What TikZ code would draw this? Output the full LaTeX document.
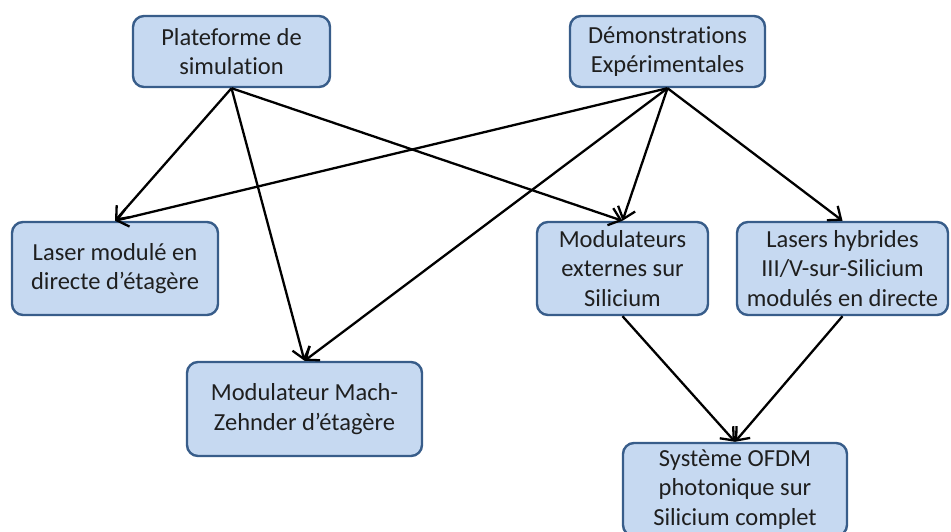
\documentclass[tikz,border=0pt]{standalone}
\usepackage{fontspec}
\setmainfont{Carlito}[RawFeature={-liga;-clig;-calt;-dlig}]
\usetikzlibrary{arrows.meta}
\definecolor{boxfill}{HTML}{C6D9F1}
\definecolor{boxline}{HTML}{385D8A}
\definecolor{txt}{HTML}{1F1F1F}
\tikzset{
	bloc/.style={draw=boxline, fill=boxfill, line width=2.4pt, rounded corners=11pt,
		align=center, text=txt, inner sep=0pt,
		font=\fontsize{24.5}{29.5}\selectfont},
	fleche/.style={line width=2.3pt, -{Straight Barb[length=11pt,width=18pt,line width=2.3pt]}}
}
\begin{document}
\begin{tikzpicture}[x=1pt, y=-1pt]
				\useasboundingbox (0,0) rectangle (951,532);
				% top row
				\node[bloc, minimum width=197, minimum height=71] (plat) at (231.5, 51.5) {Plateforme de\\simulation};
				\node[bloc, minimum width=195, minimum height=71] (demo) at (667.5, 51.5) {Démonstrations\\Expérimentales};
				% middle row
				\node[bloc, minimum width=206, minimum height=93] (laser) at (115, 268.5) {Laser modulé en\\directe d’étagère};
				\node[bloc, minimum width=171, minimum height=93] (modext) at (622.5, 268.5) {Modulateurs\\externes sur\\Silicium};
				\node[bloc, minimum width=211, minimum height=93] (hyb) at (842.5, 268.5) {Lasers hybrides\\III/V-sur-Silicium\\modulés en directe};
				% bottom
				\node[bloc, minimum width=235, minimum height=94] (mzm) at (304.5, 409) {Modulateur Mach-\\Zehnder d’étagère};
				\node[bloc, minimum width=224, minimum height=93] (ofdm) at (735, 489.5) {Système OFDM\\photonique sur\\Silicium complet};
				% links
				\foreach \a/\b in {plat/laser, plat/mzm, plat/modext, demo/laser, demo/mzm, demo/modext, demo/hyb, modext/ofdm, hyb/ofdm}{
					\draw[fleche] (\a.south) -- (\b.north);
				}
			\end{tikzpicture}
\end{document}
